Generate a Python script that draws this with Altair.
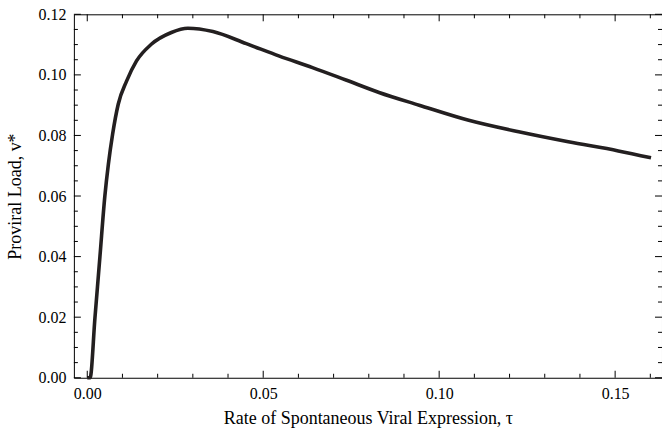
import altair as alt
import pandas as pd

# Curve (tau, v*)
tau = [0.0000, 0.0008, 0.0022, 0.0036, 0.0050, 0.0060, 0.0072, 0.0088, 0.0112,
       0.0140, 0.0182, 0.0239, 0.0286, 0.0357, 0.0452, 0.0546, 0.0640, 0.0735,
       0.0829, 0.0943, 0.1084, 0.1226, 0.1367, 0.1509, 0.1602]
vstar = [0.0000, 0.0000, 0.0200, 0.0400, 0.0600, 0.0705, 0.0804, 0.0903, 0.0980,
         0.1046, 0.1101, 0.1140, 0.1154, 0.1143, 0.1103, 0.1062, 0.1024, 0.0983,
         0.0942, 0.0900, 0.0850, 0.0812, 0.0779, 0.0749, 0.0726]

# Tick values
x_major = [0.00, 0.05, 0.10, 0.15]
x_minor = [0.01, 0.02, 0.03, 0.04, 0.06, 0.07, 0.08, 0.09, 0.11, 0.12, 0.13, 0.14, 0.16]
y_major = [0.00, 0.02, 0.04, 0.06, 0.08, 0.10, 0.12]
y_minor = [0.005, 0.01, 0.015, 0.025, 0.03, 0.035, 0.045, 0.05, 0.055, 0.065, 0.07,
           0.075, 0.085, 0.09, 0.095, 0.105, 0.11, 0.115]

W, H = 589, 364
MAJ, MIN = 7, 4
FONT = "Liberation Serif"

xscale = alt.Scale(domain=[-0.0038, 0.16332], nice=False, zero=False)
yscale = alt.Scale(domain=[0.0, 0.12], nice=False, zero=False)

xaxis = alt.Axis(values=x_major, format=".2f", ticks=False, tickSize=0,
                 domain=False, grid=False, labelPadding=8,
                 title="Rate of Spontaneous Viral Expression, τ", titlePadding=8)
yaxis = alt.Axis(values=y_major, format=".2f", ticks=False, tickSize=0,
                 domain=False, grid=False, labelPadding=8,
                 title="Proviral Load, v*", titlePadding=13)

df = pd.DataFrame({"tau": tau, "v": vstar})

curve = alt.Chart(df).mark_line(
    color="#231f20", strokeWidth=3.6, interpolate="monotone", strokeCap="butt"
).encode(
    x=alt.X("tau:Q", scale=xscale, axis=xaxis),
    y=alt.Y("v:Q", scale=yscale, axis=yaxis),
)

def xticks(vals, length):
    d = pd.DataFrame({"tau": vals})
    base = alt.Chart(d).mark_rule(color="black", strokeWidth=1)
    bottom = base.encode(x=alt.X("tau:Q", scale=xscale, axis=xaxis),
                         y=alt.value(H), y2=alt.value(H - length))
    top = base.encode(x=alt.X("tau:Q", scale=xscale, axis=xaxis),
                      y=alt.value(0), y2=alt.value(length))
    return [bottom, top]

def yticks(vals, length):
    d = pd.DataFrame({"v": vals})
    base = alt.Chart(d).mark_rule(color="black", strokeWidth=1)
    left = base.encode(y=alt.Y("v:Q", scale=yscale, axis=yaxis),
                       x=alt.value(0), x2=alt.value(length))
    right = base.encode(y=alt.Y("v:Q", scale=yscale, axis=yaxis),
                        x=alt.value(W), x2=alt.value(W - length))
    return [left, right]

layers = [curve] + xticks(x_major, MAJ) + xticks(x_minor, MIN) + \
         yticks(y_major, MAJ) + yticks(y_minor, MIN)

chart = alt.layer(*layers).properties(
    width=W, height=H,
    background="white",
    autosize=alt.AutoSizeParams(type="none"),
    padding={"left": 74, "top": 14, "right": 0, "bottom": 51},
).configure_view(
    stroke="black", strokeWidth=1
).configure_axis(
    labelFont=FONT, titleFont=FONT, labelFontSize=16, titleFontSize=18,
    labelColor="black", titleColor="black", titleFontWeight="normal",
)

chart.save("out.html", embed_options={"renderer": "svg", "actions": False})
